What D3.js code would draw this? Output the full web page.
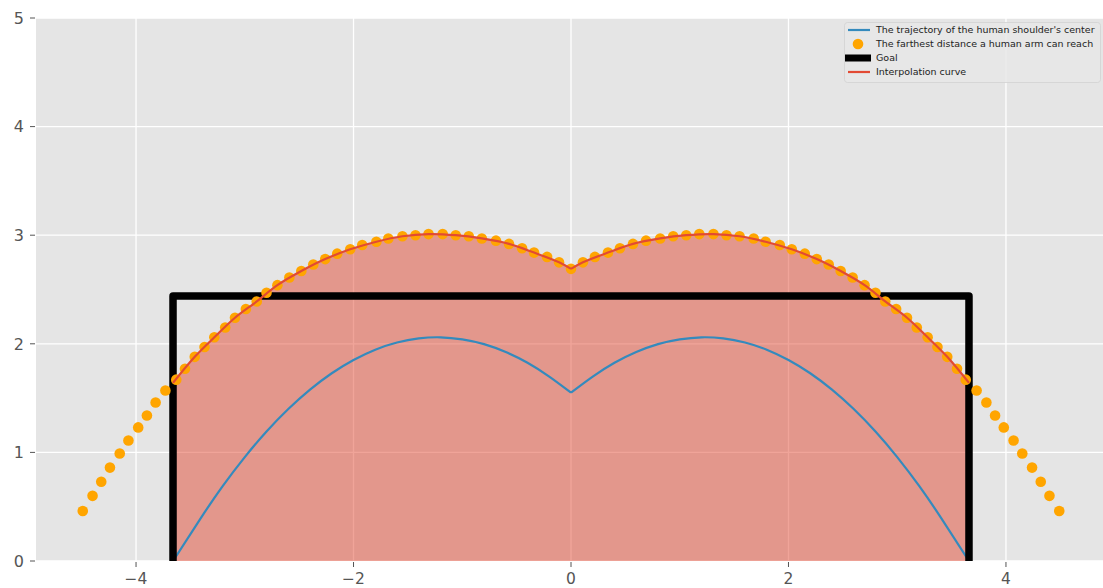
<!DOCTYPE html>
<html>
<head>
<meta charset="utf-8">
<script src="https://cdn.jsdelivr.net/npm/d3@7"></script>
<style>
  html, body { margin: 0; padding: 0; background: #ffffff; }
  svg { display: block; font-family: "DejaVu Sans", sans-serif; }
</style>
</head>
<body>
<svg id="chart" width="1103" height="588"></svg>
<script>
// ---------------- data ----------------
const reachX = [-4.49,-4.40,-4.32,-4.24,-4.15,-4.07,-3.98,-3.90,-3.82,-3.73,-3.63,-3.55,-3.46,-3.37,-3.28,-3.18,-3.09,-2.99,-2.89,-2.80,-2.70,-2.59,-2.48,-2.37,-2.26,-2.15,-2.03,-1.92,-1.79,-1.68,-1.55,-1.43,-1.31,-1.18,-1.06,-0.94,-0.82,-0.69,-0.57,-0.45,-0.34,-0.22,-0.11,0,
  0.11,0.22,0.34,0.45,0.57,0.69,0.82,0.94,1.06,1.18,1.31,1.43,1.55,1.68,1.79,1.92,2.03,2.15,2.26,2.37,2.48,2.59,2.70,2.80,2.89,2.99,3.09,3.18,3.28,3.37,3.46,3.55,3.63,3.73,3.82,3.90,3.98,4.07,4.15,4.24,4.32,4.40,4.49];
const reachY = [0.46,0.60,0.73,0.86,0.99,1.11,1.23,1.34,1.46,1.57,1.67,1.77,1.88,1.97,2.06,2.15,2.24,2.32,2.39,2.47,2.54,2.61,2.67,2.73,2.78,2.83,2.87,2.91,2.94,2.97,2.99,3.00,3.01,3.01,3.00,2.99,2.97,2.95,2.92,2.88,2.84,2.80,2.75,2.69,
  2.75,2.80,2.84,2.88,2.92,2.95,2.97,2.99,3.00,3.01,3.01,3.00,2.99,2.97,2.94,2.91,2.87,2.83,2.78,2.73,2.67,2.61,2.54,2.47,2.39,2.32,2.24,2.15,2.06,1.97,1.88,1.77,1.67,1.57,1.46,1.34,1.23,1.11,0.99,0.86,0.73,0.60,0.46];

const shoulderX = [-3.66,-3.40,-3.20,-3.00,-2.80,-2.60,-2.40,-2.20,-2.00,-1.80,-1.60,-1.40,-1.20,-1.00,-0.80,-0.60,-0.40,-0.20,0,
  0.20,0.40,0.60,0.80,1.00,1.20,1.40,1.60,1.80,2.00,2.20,2.40,2.60,2.80,3.00,3.20,3.40,3.66];
const shoulderY = [0,0.402,0.694,0.957,1.192,1.399,1.578,1.729,1.851,1.946,2.012,2.050,2.060,2.041,1.997,1.924,1.825,1.698,1.55,
  1.698,1.825,1.924,1.997,2.041,2.060,2.050,2.012,1.946,1.851,1.729,1.578,1.399,1.192,0.957,0.694,0.402,0];

const interpX = [-3.66,-3.46,-3.28,-3.09,-2.89,-2.70,-2.48,-2.26,-2.03,-1.79,-1.55,-1.31,-1.06,-0.82,-0.57,-0.34,-0.11,0,
  0.11,0.34,0.57,0.82,1.06,1.31,1.55,1.79,2.03,2.26,2.48,2.70,2.89,3.09,3.28,3.46,3.66];
const interpY = [1.64,1.88,2.06,2.24,2.39,2.54,2.67,2.78,2.87,2.94,2.99,3.01,3.00,2.97,2.92,2.84,2.75,2.69,
  2.75,2.84,2.92,2.97,3.00,3.01,2.99,2.94,2.87,2.78,2.67,2.54,2.39,2.24,2.06,1.88,1.64];

const goalX = [-3.66,-3.66,3.66,3.66];
const goalY = [0,2.44,2.44,0];

const xTicks = [-4,-2,0,2,4];
const xTickLabels = ["\u22124","\u22122","0","2","4"];
const yTicks = [0,1,2,3,4,5];
const yTickLabels = ["0","1","2","3","4","5"];

const legendLabels = ["The trajectory of the human shoulder's center",
  "The farthest distance a human arm can reach", "Goal", "Interpolation curve"];

// ---------------- drawing ----------------
const svg = d3.select("#chart");
const L = 36, R = 1106, T = 18, B = 561;
const x = d3.scaleLinear().domain([-4.92, 4.92]).range([L, R]);
const y = d3.scaleLinear().domain([0, 5]).range([B, T]);

svg.append("defs").append("clipPath").attr("id", "clip")
  .append("rect").attr("x", L).attr("y", T).attr("width", R - L).attr("height", B - T);

svg.append("rect").attr("x", L).attr("y", T).attr("width", R - L).attr("height", B - T).attr("fill", "#E5E5E5");

// grid
const grid = svg.append("g");
grid.selectAll(".gx").data(xTicks).join("line")
  .attr("x1", d => x(d)).attr("x2", d => x(d)).attr("y1", T).attr("y2", B)
  .attr("stroke", "#ffffff").attr("stroke-width", 1.3);
grid.selectAll(".gy").data(yTicks).join("line")
  .attr("x1", L).attr("x2", R).attr("y1", d => y(d)).attr("y2", d => y(d))
  .attr("stroke", "#ffffff").attr("stroke-width", 1.3);

const plot = svg.append("g").attr("clip-path", "url(#clip)");

const interp = interpX.map((v, i) => [v, interpY[i]]);
const shoulder = shoulderX.map((v, i) => [v, shoulderY[i]]);
const leftOf = arr => arr.filter(p => p[0] <= 0);
const rightOf = arr => arr.filter(p => p[0] >= 0);

// fill under interpolation curve
const area = d3.area().x(d => x(d[0])).y0(y(0)).y1(d => y(d[1])).curve(d3.curveCatmullRom);
[leftOf(interp), rightOf(interp)].forEach(seg => {
  plot.append("path").attr("d", area(seg)).attr("fill", "#E24A33").attr("fill-opacity", 0.5);
});

// shoulder trajectory
const smooth = d3.line().x(d => x(d[0])).y(d => y(d[1])).curve(d3.curveNatural);
[leftOf(shoulder), rightOf(shoulder)].forEach(seg => {
  plot.append("path").attr("d", smooth(seg)).attr("fill", "none")
    .attr("stroke", "#348ABD").attr("stroke-width", 2.2);
});

// goal
const goal = goalX.map((v, i) => [v, goalY[i]]);
plot.append("path").attr("d", d3.line().x(d => x(d[0])).y(d => y(d[1]))(goal))
  .attr("fill", "none").attr("stroke", "#000000").attr("stroke-width", 7.5)
  .attr("stroke-linejoin", "round");

// reach dots
plot.selectAll(".dot").data(reachX.map((v, i) => [v, reachY[i]])).join("circle")
  .attr("cx", d => x(d[0])).attr("cy", d => y(d[1])).attr("r", 5.3).attr("fill", "#FFA500");

// interpolation curve
const line = d3.line().x(d => x(d[0])).y(d => y(d[1])).curve(d3.curveCatmullRom);
[leftOf(interp), rightOf(interp)].forEach(seg => {
  plot.append("path").attr("d", line(seg)).attr("fill", "none")
    .attr("stroke", "#E24A33").attr("stroke-width", 2.2);
});

// axes
const xAxis = svg.append("g");
xTicks.forEach((t, i) => {
  xAxis.append("line").attr("x1", x(t)).attr("x2", x(t)).attr("y1", B + 1).attr("y2", B + 6)
    .attr("stroke", "#555555").attr("stroke-width", 1);
  xAxis.append("text").attr("x", x(t)).attr("y", 584).attr("text-anchor", "middle")
    .attr("font-size", 15.5).attr("fill", "#555555").text(xTickLabels[i]);
});
const yAxis = svg.append("g");
yTicks.forEach((t, i) => {
  yAxis.append("line").attr("x1", L - 6).attr("x2", L - 1).attr("y1", y(t)).attr("y2", y(t))
    .attr("stroke", "#555555").attr("stroke-width", 1);
  yAxis.append("text").attr("x", 24).attr("y", y(t)).attr("dy", "0.36em").attr("text-anchor", "end")
    .attr("font-size", 16).attr("fill", "#555555").text(yTickLabels[i]);
});

// legend
const lg = svg.append("g");
lg.append("rect").attr("x", 844.5).attr("y", 22.5).attr("width", 256).attr("height", 60).attr("rx", 3)
  .attr("fill", "#E8E8E8").attr("fill-opacity", 0.85).attr("stroke", "#d2d2d2").attr("stroke-width", 0.8);
const rows = [30, 44, 58, 72];
lg.append("line").attr("x1", 848).attr("x2", 870).attr("y1", rows[0]).attr("y2", rows[0])
  .attr("stroke", "#348ABD").attr("stroke-width", 2.2);
lg.append("circle").attr("cx", 858).attr("cy", rows[1]).attr("r", 5.3).attr("fill", "#FFA500");
lg.append("rect").attr("x", 845).attr("y", rows[2] - 3.5).attr("width", 26).attr("height", 7).attr("fill", "#000000");
lg.append("line").attr("x1", 848).attr("x2", 870).attr("y1", rows[3]).attr("y2", rows[3])
  .attr("stroke", "#E24A33").attr("stroke-width", 2.2);
const texts = legendLabels.map((s, i) =>
  lg.append("text").attr("x", 876).attr("y", rows[i]).attr("dy", "0.36em")
    .attr("font-size", 10).attr("fill", "#222222").text(s));
const w0 = texts[0].node().getComputedTextLength();
const fs = 10 * 219 / w0;
texts.forEach(t => t.attr("font-size", fs));
</script>
</body>
</html>
